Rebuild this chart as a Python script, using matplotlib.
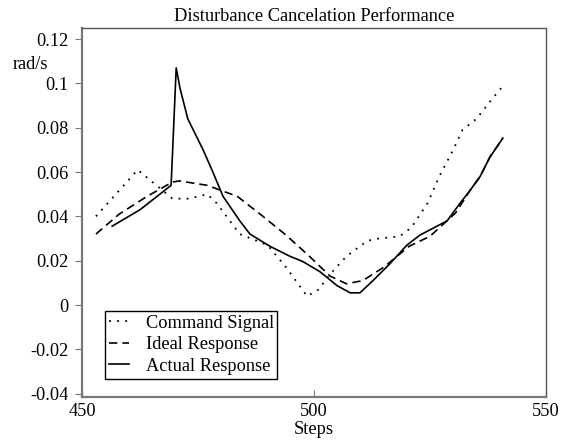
import numpy as np
import matplotlib
matplotlib.use("Agg")
from matplotlib import pyplot as plt

cmd_x = [453, 462, 469.5, 473, 477, 479, 484, 490, 494, 498.5, 501, 503.5, 507,
         511.5, 514, 518.5, 521, 524.5, 527, 530, 532, 535, 538, 541]
cmd_y = [0.040, 0.061, 0.048, 0.048, 0.050, 0.046, 0.032, 0.027, 0.017, 0.004,
         0.007, 0.014, 0.022, 0.029, 0.030, 0.031, 0.035, 0.046, 0.058, 0.070,
         0.079, 0.084, 0.092, 0.0995]

ideal_x = [453, 458, 464, 469.5, 471, 477, 483.5, 489, 494, 499, 503.5, 507,
           510.5, 515, 520.5, 525, 530.5, 533.6, 535.8, 537.9, 540.7]
ideal_y = [0.032, 0.041, 0.049, 0.0555, 0.056, 0.054, 0.049, 0.040, 0.0315,
           0.022, 0.013, 0.0096, 0.011, 0.017, 0.0265, 0.031, 0.0415, 0.0516,
           0.058, 0.0667, 0.0753]

actual_x = [456.5, 462.5, 469.2, 470.3, 471.1, 472.8, 476.1, 478.2, 480.4, 484,
            486.2, 490.5, 494.8, 497.6, 501.3, 505, 507.8, 509.9, 512.7, 516.4,
            520, 522.8, 528.7, 531.5, 533.6, 535.8, 537.9, 540.7]
actual_y = [0.0356, 0.043, 0.054, 0.107, 0.098, 0.084, 0.070, 0.060, 0.049,
            0.038, 0.032, 0.0265, 0.022, 0.0196, 0.015, 0.0087, 0.0055, 0.0055,
            0.011, 0.0187, 0.027, 0.0315, 0.038, 0.046, 0.0516, 0.058, 0.0667,
            0.0753]

x_ticks = [450, 500, 550]
y_ticks = [-0.04, -0.02, 0, 0.02, 0.04, 0.06, 0.08, 0.1, 0.12]
y_labels = ["-0.04", "-0.02", "0", "0.02", "0.04", "0.06", "0.08", "0.1", "0.12"]

plt.rcParams['font.family'] = ['Liberation Serif', 'DejaVu Serif']
plt.rcParams['font.size'] = 13.2

fig = plt.figure(figsize=(5.72, 4.46), dpi=100)
ax = fig.add_axes([0.1434, 0.1099, 0.8111, 0.8273])

ax.plot(cmd_x, cmd_y, color='k', linestyle=(0, (1, 3.5)), linewidth=1.3,
        label="Command Signal")
ax.plot(ideal_x, ideal_y, color='k', linestyle=(0, (5, 3)), linewidth=1.2,
        label="Ideal Response")
ax.plot(actual_x, actual_y, color='k', linestyle='-', linewidth=1.2,
        label="Actual Response")

ax.set_xlim(450, 550)
ax.set_ylim(-0.0415, 0.125)
ax.set_xticks(x_ticks)
ax.set_yticks(y_ticks)
ax.set_yticklabels(y_labels)
ax.tick_params(axis='y', direction='out', length=5, color='#777777', pad=5)
ax.tick_params(axis='x', direction='in', length=5, color='#777777', pad=4)

for side in ['left', 'bottom']:
    ax.spines[side].set_color('#777777')
    ax.spines[side].set_linewidth(1.6)
for side in ['top', 'right']:
    ax.spines[side].set_color('#555555')
    ax.spines[side].set_linewidth(1.0)

ax.set_xlabel("Steps", labelpad=1)
ax.set_title("Disturbance Cancelation Performance", fontsize=13.2, pad=5)
fig.text(0.023, 0.855, "rad/s", fontsize=13.2, va='center')

leg = ax.legend(loc='lower left', bbox_to_anchor=(0.05, 0.05), handlelength=1.1,
                handletextpad=0.9, labelspacing=0.25, borderpad=0.2,
                borderaxespad=0, fancybox=False, framealpha=1, edgecolor='k',
                fontsize=13.2)
leg.get_frame().set_linewidth(1.0)

fig.savefig("out.png", dpi=100)
